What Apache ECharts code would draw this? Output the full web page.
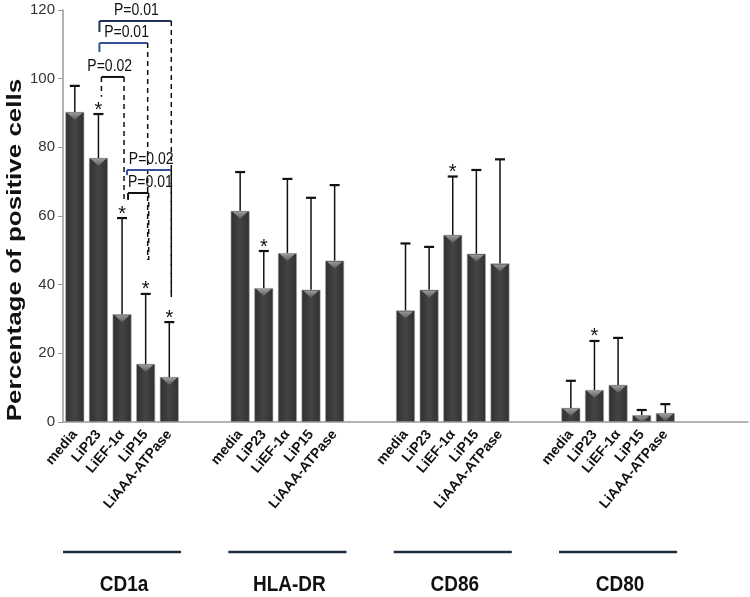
<!DOCTYPE html>
<html><head><meta charset="utf-8">
<script src="https://cdn.jsdelivr.net/npm/echarts@6/dist/echarts.min.js"></script>
<style>html,body{margin:0;padding:0;background:#fff}#c{width:750px;height:597px}</style>
</head><body><div id="c"></div>
<script>
// ---------------- data ----------------
const groups = ['CD1a', 'HLA-DR', 'CD86', 'CD80'];
const stimuli = ['media', 'LiP23', 'LiEF-1α', 'LiP15', 'LiAAA-ATPase'];
const yTicks = [0, 20, 40, 60, 80, 100, 120];

// mean % positive cells per stimulus
const meanCD1a  = [90.3, 76.9, 31.4, 16.9, 13.1];
const meanHLADR = [61.5, 39.0, 49.2, 38.5, 47.0];
const meanCD86  = [32.5, 38.5, 54.5, 49.0, 46.2];
const meanCD80  = [4.1, 9.3, 10.8, 2.0, 2.6];

// upper end of the error bars
const topCD1a  = [97.9, 89.7, 59.4, 37.3, 29.1];
const topHLADR = [72.8, 49.8, 70.8, 65.3, 69.0];
const topCD86  = [52.0, 51.0, 71.5, 73.4, 76.5];
const topCD80  = [12.0, 23.6, 24.5, 3.5, 5.2];

// significance asterisks (1 = shown)
const starCD1a  = [0, 1, 1, 1, 1];
const starHLADR = [0, 1, 0, 0, 0];
const starCD86  = [0, 0, 1, 0, 0];
const starCD80  = [0, 1, 0, 0, 0];

// P-value brackets within CD1a (stimulus indices)
const bracketFrom  = [1, 1, 1, 2, 2];
const bracketTo    = [4, 3, 2, 4, 3];
const bracketLevel = [116.8, 110.4, 100.5, 73.4, 66.7];
const bracketLeftEnd  = [113.6, 107.8, 94.7, 71.9, 64.7];
const bracketRightEnd = [36.4, 47.2, 64.0, 36.4, 47.2];
const bracketLabel = ['P=0.01', 'P=0.01', 'P=0.02', 'P=0.02', 'P=0.01'];

// ---------------- build ----------------
const means = [meanCD1a, meanHLADR, meanCD86, meanCD80];
const tops = [topCD1a, topHLADR, topCD86, topCD80];
const stars = [starCD1a, starHLADR, starCD86, starCD80];
const SLOTS = 7; // 5 bars + 2 empty slots per group
const categories = [];
const barData = [];
const errData = [];
const starData = [];
groups.forEach((g, gi) => {
  stimuli.forEach((s, si) => {
    const idx = gi * SLOTS + si;
    categories.push(s);
    barData.push(means[gi][si]);
    errData.push([idx, means[gi][si], tops[gi][si]]);
    if (stars[gi][si]) starData.push([idx, tops[gi][si]]);
  });
  categories.push(''); barData.push(null);
  categories.push(''); barData.push(null);
});
categories.push(''); barData.push(null);

const bracketData = bracketFrom.map((f, i) => [f, bracketTo[i], bracketLevel[i], bracketLeftEnd[i], bracketRightEnd[i], i]);
const groupData = groups.map((g, gi) => [gi * SLOTS + 2, gi]);

// ---------------- styling ----------------
const bracketStyle = {
  color: ['#1f2f5a', '#34509a', '#111111', '#34509a', '#111111'],
  leftDashed: [false, false, true, false, false],
  leftShift: [1, 1, 3, 5, 6],
  rightShift: [2, 2, 2, 2, 3],
  labelShift: [1, 3, -3, 2, 12]
};
const FONT = '"Liberation Sans", Arial, sans-serif';

const chart = echarts.init(document.getElementById('c'), null, {renderer: 'canvas'});
chart.setOption({
  animation: false,
  backgroundColor: '#ffffff',
  grid: {left: 63, right: 2, top: 10, bottom: 175, containLabel: false, outerBoundsMode: 'none'},
  xAxis: {
    type: 'category',
    data: categories,
    axisLine: {lineStyle: {color: '#9a9a9a', width: 1.5}},
    axisTick: {show: false},
    axisLabel: {interval: 0, rotate: 50, fontSize: 14, fontWeight: 'bold', color: '#111', fontFamily: FONT, margin: 10}
  },
  yAxis: {
    type: 'value', min: yTicks[0], max: yTicks[yTicks.length - 1], interval: yTicks[1] - yTicks[0],
    axisLine: {show: true, lineStyle: {color: '#9a9a9a', width: 1.5}},
    axisTick: {show: true, length: 5, lineStyle: {color: '#9a9a9a'}},
    splitLine: {show: false},
    axisLabel: {fontSize: 15, color: '#333', fontFamily: FONT, margin: 8}
  },
  series: [
    {
      type: 'bar',
      data: barData,
      barCategoryGap: '20%',
      itemStyle: {
        color: new echarts.graphic.LinearGradient(0, 0, 1, 0, [
          {offset: 0, color: '#303030'}, {offset: 0.5, color: '#444444'}, {offset: 1, color: '#303030'}
        ]),
        borderColor: '#a8a8a8', borderWidth: 0.6
      },
      z: 2
    },
    {
      // bevel triangle at top of each bar + error bars
      type: 'custom',
      data: errData,
      z: 3,
      renderItem: function (params, api) {
        const idx = api.value(0);
        const pm = api.coord([idx, api.value(1)]);
        const pt = api.coord([idx, api.value(2)]);
        const p0 = api.coord([idx, 0]);
        const bw = api.size([1, 0])[0] * 0.8;
        const h = Math.min(7, p0[1] - pm[1] - 1);
        return {
          type: 'group',
          children: [
            {type: 'polygon', shape: {points: [[pm[0] - bw / 2 + 2, pm[1] + 1], [pm[0] + bw / 2 - 2, pm[1] + 1], [pm[0], pm[1] + 1 + h]]},
              style: {fill: new echarts.graphic.LinearGradient(0, 0, 0, 1, [{offset: 0, color: '#9a9a9a'}, {offset: 1, color: '#5a5a5a'}])}},
            {type: 'line', shape: {x1: pm[0], y1: pm[1], x2: pt[0], y2: pt[1]}, style: {stroke: '#111', lineWidth: 1.5}},
            {type: 'line', shape: {x1: pt[0] - 5, y1: pt[1], x2: pt[0] + 5, y2: pt[1]}, style: {stroke: '#111', lineWidth: 2.2}}
          ]
        };
      }
    },
    {
      type: 'custom',
      data: starData,
      z: 4,
      renderItem: function (params, api) {
        const p = api.coord([api.value(0), api.value(1)]);
        return {type: 'text', x: p[0], y: p[1] - 4,
          style: {text: '*', fill: '#111', font: '20px ' + FONT, textAlign: 'center', textVerticalAlign: 'middle', align: 'center', verticalAlign: 'middle'}};
      }
    },
    {
      type: 'custom',
      data: bracketData,
      z: 5,
      renderItem: function (params, api) {
        const i = api.value(5);
        const xl = api.coord([api.value(0), 0])[0] + bracketStyle.leftShift[i];
        const xr = api.coord([api.value(1), 0])[0] + bracketStyle.rightShift[i];
        const y = api.coord([0, api.value(2)])[1];
        const yL = api.coord([0, api.value(3)])[1];
        const yR = api.coord([0, api.value(4)])[1];
        const col = bracketStyle.color[i];
        const dashed = bracketStyle.leftDashed[i];
        return {
          type: 'group',
          children: [
            {type: 'line', shape: {x1: xl, y1: y, x2: xr, y2: y}, style: {stroke: col, lineWidth: 2}},
            {type: 'line', shape: {x1: xl, y1: y, x2: xl, y2: yL},
              style: {stroke: dashed ? '#111' : col, lineWidth: dashed ? 1.5 : 2, lineDash: dashed ? [5, 4] : null}},
            {type: 'line', shape: {x1: xr, y1: y, x2: xr, y2: yR}, style: {stroke: '#111', lineWidth: 1.5, lineDash: [5, 4]}},
            {type: 'text', x: (xl + xr) / 2 + bracketStyle.labelShift[i], y: y - 2, scaleY: 1.15,
              style: {text: bracketLabel[i], fill: '#111', font: '14px ' + FONT, textAlign: 'center', textVerticalAlign: 'bottom', align: 'center', verticalAlign: 'bottom'}}
          ]
        };
      }
    },
    {
      // group underline + group name
      type: 'custom',
      data: groupData,
      z: 5,
      renderItem: function (params, api) {
        const gi = api.value(1);
        const c = api.coord([api.value(0), 0]);
        const half = api.size([1, 0])[0] * 2.5;
        return {
          type: 'group',
          children: [
            {type: 'line', shape: {x1: c[0] - half, y1: 552, x2: c[0] + half, y2: 552}, style: {stroke: '#1f2d45', lineWidth: 2.5}},
            {type: 'text', x: c[0] + 2, y: 585, scaleY: 1.2,
              style: {text: groups[gi], fill: '#111', font: 'bold 19px ' + FONT, textAlign: 'center', textVerticalAlign: 'middle', align: 'center', verticalAlign: 'middle'}}
          ]
        };
      }
    }
  ],
  graphic: [
    {type: 'text', x: 15, y: 250, rotation: Math.PI / 2, scaleX: 1.3,
      style: {text: 'Percentage of positive cells', fill: '#111', font: 'bold 20px ' + FONT,
        textAlign: 'center', textVerticalAlign: 'middle', align: 'center', verticalAlign: 'middle'}}
  ]
});
</script>
</body></html>
